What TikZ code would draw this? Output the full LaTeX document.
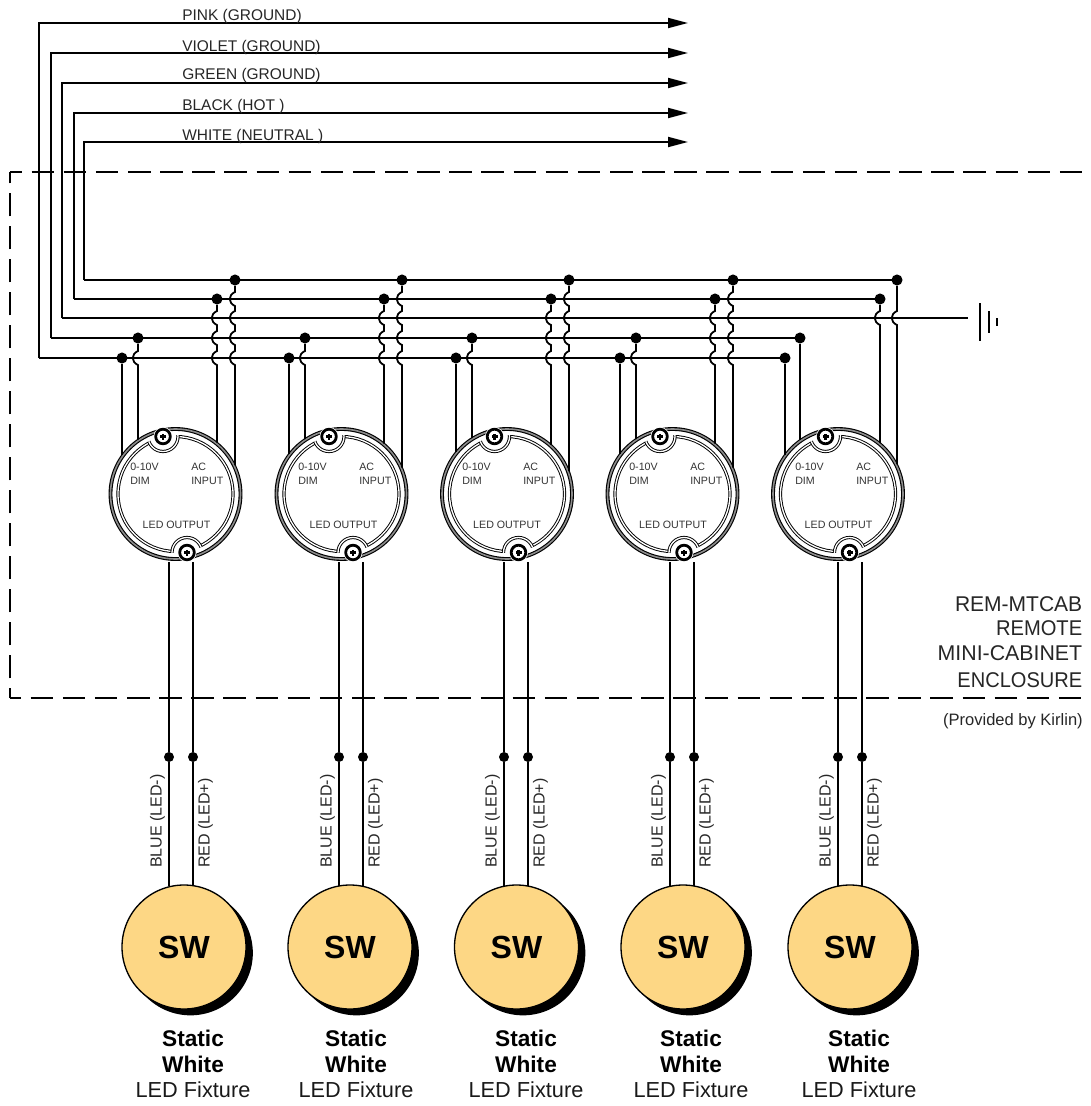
\documentclass[tikz,border=0pt]{standalone}
\usepackage{fontspec}
\usepackage{graphicx}
\setmainfont{Liberation Sans}
\usetikzlibrary{arrows.meta,calc}
\definecolor{fixt}{HTML}{FDD785}
\tikzset{
 wire/.style={line width=1.35pt,black},
 bus/.style={wire,-{Triangle[length=15pt,width=7.5pt]}},
 jdot/.style={circle,fill=black,inner sep=0pt,minimum size=8.3pt},
 sdot/.style={circle,fill=black,inner sep=0pt,minimum size=7.5pt},
 encl/.style={line width=1.35pt},
 lab/.style={font=\fontsize{11.6pt}{13pt}\selectfont,text=black!85,inner sep=0pt},
 vlab/.style={font=\fontsize{12pt}{13pt}\selectfont,text=black!85,inner sep=0pt,rotate=90,anchor=west},
 drvtxt/.style={font=\fontsize{8pt}{10pt}\selectfont,text=black!80,inner sep=0pt},
 rlab/.style={font=\fontsize{16pt}{18pt}\selectfont,text=black!85,inner sep=0pt,anchor=east},
 fixture/.style={circle,draw=black,line width=1pt,fill=fixt,minimum size=93pt,inner sep=0pt,font=\bfseries\fontsize{24pt}{26pt}\selectfont},
 shadowc/.style={circle,fill=black,minimum size=93.5pt,inner sep=0pt},
 fixlab/.style={font=\fontsize{16.3pt}{18pt}\selectfont,inner sep=0pt,text=black!90},
 fixbold/.style={font=\bfseries\fontsize{17pt}{18pt}\selectfont,inner sep=0pt,text=black},
 drvnode/.style={circle,inner sep=0pt,minimum size=99pt},
}
\newcommand\hop[2]{-- ({#1},{#2-7}) .. controls ({#1-7},{#2-4}) and ({#1-7},{#2+4}) .. ({#1},{#2+7})}
\newcommand\screw[2]{%
 \fill[white] (#1,#2) circle[radius=9.5];
 \draw[black,line width=2.1pt] (#1,#2) circle[radius=7.3];
 \fill[black] ({#1-3},{#2-1.1}) rectangle ({#1+3},{#2+1.1});
 \fill[black] ({#1-1.1},{#2-3}) rectangle ({#1+1.1},{#2+3});
}
\begin{document}
\begin{tikzpicture}[x=0.75pt,y=-0.75pt]
\useasboundingbox (0,0) rectangle (1090,1106);
% enclosure
\coordinate (e1) at (1082,172); \coordinate (e2) at (10,172);
\coordinate (e3) at (10,698); \coordinate (e4) at (1082,698);
\draw[encl,dash pattern=on 16.9pt off 7.2pt,dash phase=7.9pt] (e2) -- (e1);
\draw[encl,dash pattern=on 17.55pt off 7.2pt,dash phase=10pt] (e3) -- (e2);
\draw[encl,dash pattern=on 16.9pt off 7.2pt,dash phase=8.6pt] (e3) -- (e4);
% arrow ends and bus corners
\foreach \nm/\cx/\ty/\by/\bx in {pk/39/23/358/785,vi/51/53/338/800,gr/62/83/318/968,bl/74/113/299/880,wh/84/142/280/897}{
 \coordinate (\nm-a) at (688,\ty);
 \coordinate (\nm-b) at (\cx,\ty);
 \coordinate (\nm-c) at (\cx,\by);
 \coordinate (\nm-d) at (\bx,\by);
 \draw[bus] (\nm-c) -- (\nm-b) -- (\nm-a);
 \draw[wire] (\nm-c) -- (\nm-d);
}
% wire colour labels
\node[lab,anchor=west] (lpk) at (182,16.5) {PINK (GROUND)};
\node[lab,anchor=west] (lvi) at (182,47.5) {VIOLET (GROUND)};
\node[lab,anchor=west] (lgr) at (182,75.5) {GREEN (GROUND)};
\node[lab,anchor=west] (lbl) at (182,106.5) {BLACK (HOT )};
\node[lab,anchor=west] (lwh) at (182,136.5) {WHITE (NEUTRAL )};
% ground symbol
\coordinate (g1a) at (980,303); \coordinate (g1b) at (980,341);
\coordinate (g2a) at (989,311); \coordinate (g2b) at (989,333);
\coordinate (g3a) at (997,318); \coordinate (g3b) at (997,326);
\draw[wire] (g1a) -- (g1b) (g2a) -- (g2b) (g3a) -- (g3b);
% drivers
\foreach \n/\c/\p/\v/\b/\w/\lx/\ax/\ox in {
 1/175.5/122/138/217/235/130/191/176.5,
 2/341.5/289/305/384/402/298/359/343.5,
 3/507/456/472/551/569/462/523/507,
 4/672.5/620/636/715/733/629/690/673,
 5/838/785/800/880/897/795/856/838.5}{
 \node[drvnode] (drv\n) at (\c,494) {};
 % outer ring
 \draw[black,line width=2.9pt] (\c,494) circle[radius=65];
 \draw[black!45,line width=1.2pt] (\c,494) circle[radius=65];
 % inner ring
 \draw[black,line width=2.4pt] (\c,494) circle[radius=57.5];
 \draw[white,line width=1pt] (\c,494) circle[radius=57.5];
 % notches
 \begin{scope}
  \clip (\c,494) circle[radius=62.5];
  \fill[white] ({\c-12.5},436.5) circle[radius=16];
  \fill[white] ({\c+11.5},552.5) circle[radius=16];
 \end{scope}
 \begin{scope}
  \clip (\c,494) circle[radius=59];
  \draw[black,line width=2.4pt] ({\c-12.5},436.5) circle[radius=15]  ({\c+11.5},552.5) circle[radius=15];
  \draw[white,line width=1pt] ({\c-12.5},436.5) circle[radius=15]  ({\c+11.5},552.5) circle[radius=15];
 \end{scope}
 \screw{\c-12.5}{436.5}
 \screw{\c+11.5}{552.5}
 % texts
 \node[drvtxt,anchor=west] (t1\n) at (\lx,467) {0-10V};
 \node[drvtxt,anchor=west] (t2\n) at (\lx,481) {DIM};
 \node[drvtxt,anchor=west] (t3\n) at (\ax,467) {AC};
 \node[drvtxt,anchor=west] (t4\n) at (\ax,481) {INPUT};
 \node[drvtxt] (t5\n) at (\ox,525) {LED OUTPUT};
 % junction dots
 \node[jdot] (p\n) at (\p,358) {};
 \node[jdot] (v\n) at (\v,338) {};
 \node[jdot] (b\n) at (\b,299) {};
 \node[jdot] (w\n) at (\w,280) {};
 % landing points on the driver edge
 \coordinate (pe\n) at (\p,{494-sqrt(66*66-(\p-\c)*(\p-\c))});
 \coordinate (ve\n) at (\v,{494-sqrt(66*66-(\v-\c)*(\v-\c))});
 \coordinate (be\n) at (\b,{494-sqrt(66*66-(\b-\c)*(\b-\c))});
 \coordinate (we\n) at (\w,{494-sqrt(66*66-(\w-\c)*(\w-\c))});
 \draw[wire] (p\n) -- (pe\n);
 \ifnum\n=5
  \draw[wire] (v\n) -- (ve\n);
  \draw[wire] (b\n) \hop{\b}{318} -- (be\n);
  \draw[wire] (w\n) \hop{\w}{318} -- (we\n);
 \else
  \draw[wire] (v\n) \hop{\v}{358} -- (ve\n);
  \draw[wire] (b\n) \hop{\b}{318} \hop{\b}{338} \hop{\b}{358} -- (be\n);
  \draw[wire] (w\n) \hop{\w}{299} \hop{\w}{318} \hop{\w}{338} \hop{\w}{358} -- (we\n);
 \fi
}
% fixtures
\foreach \n/\ll/\lr/\f/\tx in {
 1/169/193/184/193,
 2/339/363/350/356,
 3/504/528/516.5/526,
 4/670/694/683/691,
 5/838/862/850/859}{
 \node[shadowc] (sh\n) at ({\f+6.5},953) {};
 \node[fixture] (fx\n) at (\f,947) {SW};
 \coordinate (lt\n) at (\ll,562); \coordinate (rt\n) at (\lr,562);
 \coordinate (lb\n) at (\ll,886); \coordinate (rb\n) at (\lr,886);
 \node[sdot] (ld\n) at (\ll,757) {};
 \node[sdot] (rd\n) at (\lr,757) {};
 \draw[wire] (lt\n) -- (ld\n) -- (lb\n);
 \draw[wire] (rt\n) -- (rd\n) -- (rb\n);
 \node[vlab] (bl\n) at ({\ll-11.5},868) {BLUE (LED-)};
 \node[vlab] (rl\n) at ({\lr+12.5},868) {RED (LED+)};
 \node[fixbold] (s\n) at (\tx,1038) {Static};
 \node[fixbold] (h\n) at (\tx,1064) {White};
 \node[fixlab] (f\n) at (\tx,1090) {LED Fixture};
}
% enclosure caption
\node[rlab] (c1) at (1082.5,604) {\scalebox{.985}[1]{REM-MTCAB}};
\node[rlab] (c2) at (1082.5,628) {\scalebox{.945}[1]{REMOTE}};
\node[rlab] (c3) at (1082.5,653) {MINI-CABINET};
\node[rlab] (c4) at (1082.5,680) {\scalebox{.94}[1]{ENCLOSURE}};
\node[rlab,font=\fontsize{12.4pt}{14pt}\selectfont] (c5) at (1083,721) {(Provided by Kirlin)};
\end{tikzpicture}
\end{document}
